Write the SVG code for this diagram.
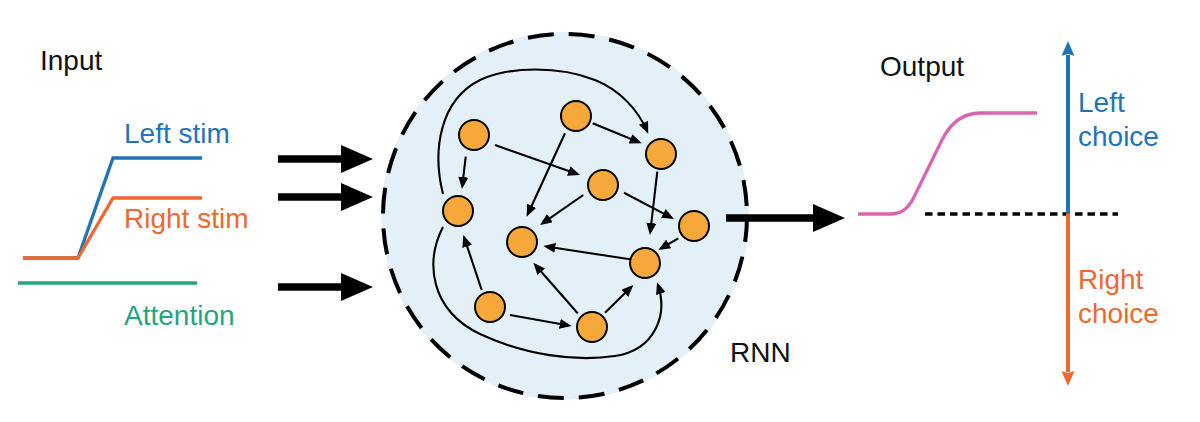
<svg xmlns="http://www.w3.org/2000/svg" width="1200" height="422" viewBox="0 0 1200 422">
<defs>
<style>
text { font-family: "Liberation Sans", Arial, sans-serif; font-size: 28px; }
.node circle { fill: #f7a83a; stroke: #000; stroke-width: 2; }
.edge { fill: none; stroke: #000; stroke-width: 2.1; marker-end: url(#ah); }
.big { fill: none; stroke: #000; stroke-width: 7.5; marker-end: url(#bigah); }
.sig { fill: none; stroke-width: 3.3; stroke-linejoin: miter; }
</style>
<marker id="ah" markerUnits="userSpaceOnUse" viewBox="0 0 12 10" markerWidth="12" markerHeight="10" refX="9" refY="5" orient="auto"><path d="M0,0 L12,5 L0,10 z" fill="#000"/></marker>
<marker id="bigah" markerUnits="userSpaceOnUse" viewBox="0 0 32 28" markerWidth="32" markerHeight="28" refX="1" refY="14" orient="auto"><path d="M0,0 L32,14 L0,28 z" fill="#000"/></marker>
<marker id="ahBlue" markerUnits="userSpaceOnUse" viewBox="0 0 15 13" markerWidth="15" markerHeight="13" refX="1" refY="6.5" orient="auto"><path d="M0,0 L15,6.5 L0,13 L2,6.5 z" fill="#1f74b8"/></marker>
<marker id="ahOrange" markerUnits="userSpaceOnUse" viewBox="0 0 15 13" markerWidth="15" markerHeight="13" refX="1" refY="6.5" orient="auto"><path d="M0,0 L15,6.5 L0,13 L2,6.5 z" fill="#ee6830"/></marker>
</defs>
<rect width="1200" height="422" fill="#fff"/>

<g id="input">
<text x="40" y="70" fill="#111">Input</text>
<polyline class="sig" points="23,258 78,258 113,158 202,158" stroke="#1f74b8"/>
<polyline class="sig" points="23,258 78,258 113,198 202,198" stroke="#ee6830"/>
<line class="sig" x1="18" y1="283" x2="197" y2="283" stroke="#22a67c"/>
<text x="124" y="143" fill="#1f74b8">Left stim</text>
<text x="124" y="228" fill="#ee6830">Right stim</text>
<text x="124" y="325" fill="#22a67c">Attention</text>
</g>

<g id="rnn">
<circle cx="565" cy="216" r="184" fill="#e3f0f7"/>
<circle cx="565" cy="216" r="182" fill="none" stroke="#000" stroke-width="4" stroke-dasharray="26 15"/>
<text x="730" y="362" fill="#111">RNN</text>
</g>

<g id="connectors">
<line class="big" x1="278" y1="159" x2="342" y2="159"/>
<line class="big" x1="278" y1="197" x2="342" y2="197"/>
<line class="big" x1="278" y1="287" x2="342" y2="287"/>
<line class="big" x1="726" y1="218" x2="814" y2="218"/>

<line class="edge" x1="465.7" y1="156.7" x2="462.3" y2="186"/>
<line class="edge" x1="495" y1="145" x2="577.2" y2="174"/>
<line class="edge" x1="592.7" y1="123.3" x2="638.9" y2="142.2"/>
<line class="edge" x1="565" y1="133.3" x2="527.9" y2="214"/>
<line class="edge" x1="583.3" y1="195" x2="542.5" y2="223.3"/>
<line class="edge" x1="624" y1="192.7" x2="671.3" y2="217.6"/>
<line class="edge" x1="657.3" y1="171.7" x2="650.3" y2="232"/>
<line class="edge" x1="678.3" y1="238.3" x2="660.9" y2="248.5"/>
<line class="edge" x1="630" y1="259.3" x2="546.3" y2="246.5"/>
<line class="edge" x1="481.7" y1="290" x2="464.3" y2="237.8"/>
<line class="edge" x1="510" y1="315" x2="568.7" y2="325.5"/>
<line class="edge" x1="577.7" y1="313.3" x2="535.3" y2="265"/>
<line class="edge" x1="605" y1="312.7" x2="631.2" y2="287.1"/>
<path class="edge" d="M443,194 C432,150 440,100 480,80 C510,66 560,66 595,80 C620,90 638,110 647,131"/>
<path class="edge" d="M443,227 C425,262 430,310 480,334 C525,355 575,362 615,356 C655,350 668,315 658,285"/>
</g>

<g id="n1" class="node"><circle cx="474" cy="135" r="15"/></g>
<g id="n2" class="node"><circle cx="576" cy="116" r="15"/></g>
<g id="n3" class="node"><circle cx="661" cy="154" r="15"/></g>
<g id="n4" class="node"><circle cx="603" cy="185" r="15"/></g>
<g id="n5" class="node"><circle cx="458" cy="211" r="15"/></g>
<g id="n6" class="node"><circle cx="694" cy="226" r="15"/></g>
<g id="n7" class="node"><circle cx="522" cy="242" r="15"/></g>
<g id="n8" class="node"><circle cx="645" cy="263" r="15"/></g>
<g id="n9" class="node"><circle cx="490" cy="307" r="15"/></g>
<g id="n10" class="node"><circle cx="592" cy="327" r="15"/></g>

<g id="output">
<text x="880" y="76" fill="#111">Output</text>
<path class="sig" d="M858,214 L890,214 C902,214 908,208 913,199 L942,140 C947,130 958,113 980,113 L1037,113" stroke="#d965b1"/>
<line x1="925" y1="214" x2="1118" y2="214" stroke="#000" stroke-width="3.3" stroke-dasharray="7.5 5"/>
<line x1="1068" y1="214" x2="1068" y2="55" stroke="#1f74b8" stroke-width="4" marker-end="url(#ahBlue)"/>
<line x1="1068" y1="214" x2="1068" y2="372" stroke="#ee6830" stroke-width="4" marker-end="url(#ahOrange)"/>
<text x="1078" y="112" fill="#1f74b8">Left</text>
<text x="1078" y="146" fill="#1f74b8">choice</text>
<text x="1078" y="289" fill="#ee6830">Right</text>
<text x="1078" y="323" fill="#ee6830">choice</text>
</g>
</svg>
